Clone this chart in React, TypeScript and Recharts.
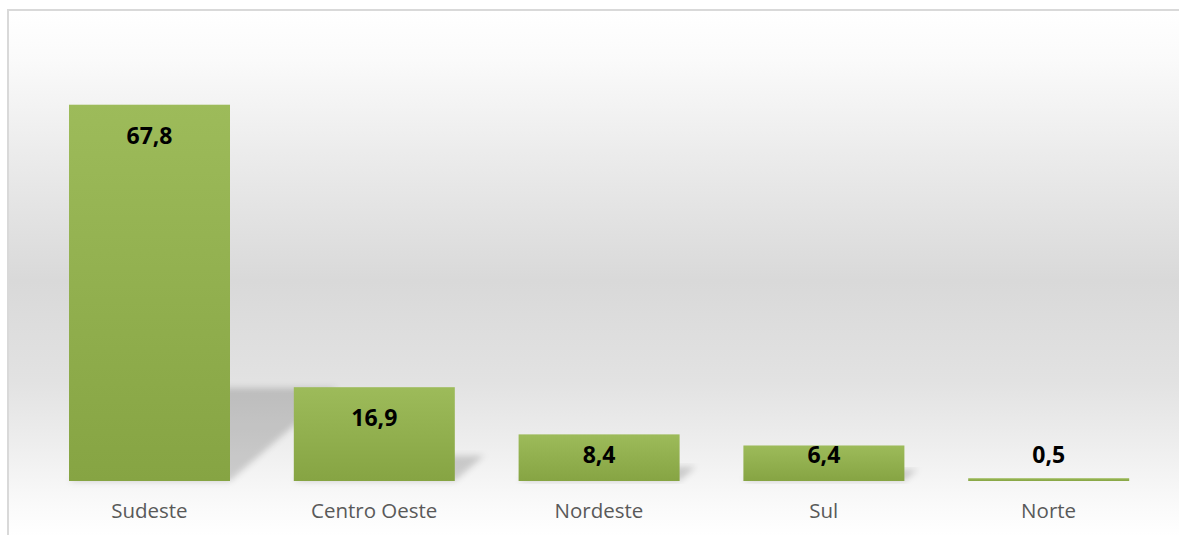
import { BarChart, Bar, XAxis, YAxis, LabelList } from 'recharts';

const regions = ['Sudeste', 'Centro Oeste', 'Nordeste', 'Sul', 'Norte'];
const shares = [67.8, 16.9, 8.4, 6.4, 0.5];

const data = regions.map((name, i) => ({ name, value: shares[i] }));

const fmt = (v: number) => v.toFixed(1).replace('.', ',');

const ShadowBar = (props: any) => {
  const { x, y, width, height } = props;
  const b = y + height;
  const sh = 0.24 * height + 3;
  const s = 1.15 * sh;
  const pts = `${x},${b} ${x + width},${b} ${x + width + s},${b - sh} ${x + s},${b - sh}`;
  return (
    <g>
      {height > 10 && (
        <polygon points={pts} fill="#000" fillOpacity={0.17} filter="url(#shadowBlur)" />
      )}
      <rect x={x} y={y} width={width} height={height} fill="url(#barFill)" />
    </g>
  );
};

const ValueLabel = (props: any) => {
  const { x, y, width, value } = props;
  const cx = x + width / 2;
  const cy = Math.min(y + 30, 454);
  return (
    <text x={cx} y={cy} textAnchor="middle" dominantBaseline="central"
      fontFamily="'Open Sans', sans-serif" fontWeight="bold" fontSize={23} fill="#000">
      {fmt(value)}
    </text>
  );
};

export default function App() {
  return (
    <div style={{ position: 'absolute', left: 0, top: 0, width: 1179, height: 535, overflow: 'hidden', background: '#fff' }}>
      <div
        style={{
          position: 'absolute',
          left: 7,
          top: 9,
          width: 1200,
          height: 560,
          borderLeft: '2px solid #d9d9d9',
          borderTop: '2px solid #d9d9d9',
          background:
            'linear-gradient(to bottom, #ffffff 0px, #fafafa 50px, #ececec 140px, #d9d9d9 270px, #e2e2e2 370px, #efefef 440px, #fafafa 495px, #ffffff 526px)',
        }}
      />
      <div style={{ position: 'absolute', left: 0, top: 0 }}>
        <BarChart
          width={1179}
          height={535}
          data={data}
          margin={{ top: 37, right: 18, left: 37, bottom: 0 }}
          barCategoryGap={32}
        >
          <defs>
            <linearGradient id="barFill" x1="0" y1="0" x2="0" y2="1">
              <stop offset="0%" stopColor="#9dbb5a" />
              <stop offset="100%" stopColor="#86a443" />
            </linearGradient>
            <filter id="shadowBlur" x="-20%" y="-20%" width="140%" height="140%">
              <feGaussianBlur stdDeviation="3" />
            </filter>
          </defs>
          <XAxis
            dataKey="name"
            height={54}
            axisLine={false}
            tickLine={false}
            tickMargin={16}
            tick={{ fill: '#595959', fontSize: 20.5, fontFamily: "'Open Sans', sans-serif" }}
          />
          <YAxis hide domain={[0, 80]} />
          <Bar dataKey="value" shape={ShadowBar} isAnimationActive={false}>
            <LabelList dataKey="value" content={ValueLabel} />
          </Bar>
        </BarChart>
      </div>
    </div>
  );
}
